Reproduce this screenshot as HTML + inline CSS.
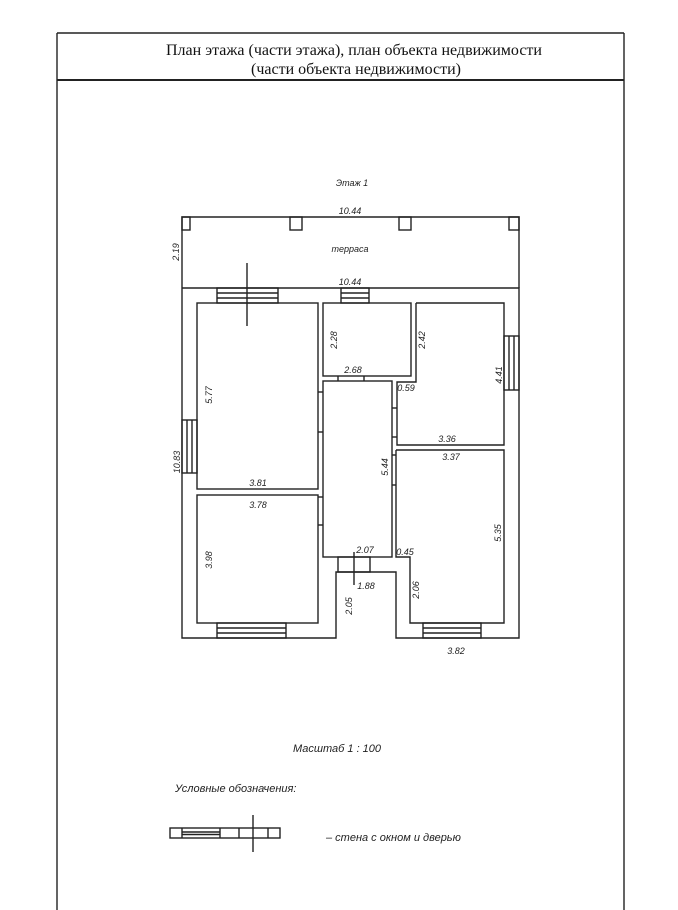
<!DOCTYPE html>
<html><head><meta charset="utf-8"><style>
html,body{margin:0;padding:0;background:#fff;width:678px;height:910px;overflow:hidden}
svg{display:block}
text{font-family:"Liberation Sans","DejaVu Sans",sans-serif;font-style:italic;fill:#222}
.t{font-family:"Liberation Serif","DejaVu Serif",serif;font-style:normal;fill:#111}
</style></head><body>
<svg width="678" height="910" viewBox="0 0 678 910" xmlns="http://www.w3.org/2000/svg">
<g fill="none" stroke="#222" stroke-width="1.4">
<line x1="57" y1="33" x2="624" y2="33"/>
<line x1="57" y1="33" x2="57" y2="910"/>
<line x1="624" y1="33" x2="624" y2="910"/>
<line x1="57" y1="80" x2="624" y2="80" stroke-width="2"/>
<polyline points="182,288 182,217 519,217 519,288"/>
<rect x="182" y="217" width="8" height="13"/>
<rect x="290" y="217" width="12" height="13"/>
<rect x="399" y="217" width="12" height="13"/>
<rect x="509" y="217" width="10" height="13"/>
<polyline points="182,288 519,288 519,638 396,638 396,572 336,572 336,638 182,638 182,288"/>
<rect x="197" y="303" width="121" height="186"/>
<rect x="197" y="495" width="121" height="128"/>
<rect x="323" y="303" width="88" height="73"/>
<rect x="323" y="381" width="69" height="176"/>
<polyline points="416,303 504,303 504,445 397,445 397,382 416,382 416,303"/>
<polyline points="396,450 504,450 504,623 410,623 410,557 396,557 396,450"/>
<rect x="217" y="288" width="61" height="15"/>
<line x1="217" y1="293" x2="278" y2="293"/><line x1="217" y1="298" x2="278" y2="298"/>
<rect x="341" y="288" width="28" height="15"/>
<line x1="341" y1="293" x2="369" y2="293"/><line x1="341" y1="298" x2="369" y2="298"/>
<rect x="504" y="336" width="15" height="54"/>
<line x1="509" y1="336" x2="509" y2="390"/><line x1="514" y1="336" x2="514" y2="390"/>
<rect x="182" y="420" width="15" height="53"/>
<line x1="187" y1="420" x2="187" y2="473"/><line x1="192" y1="420" x2="192" y2="473"/>
<rect x="217" y="623" width="69" height="15"/>
<line x1="217" y1="628" x2="286" y2="628"/><line x1="217" y1="633" x2="286" y2="633"/>
<rect x="423" y="623" width="58" height="15"/>
<line x1="423" y1="628" x2="481" y2="628"/><line x1="423" y1="633" x2="481" y2="633"/>
<line x1="338" y1="376" x2="338" y2="381"/><line x1="364" y1="376" x2="364" y2="381"/>
<line x1="318" y1="392" x2="323" y2="392"/><line x1="318" y1="432" x2="323" y2="432"/>
<line x1="318" y1="497" x2="323" y2="497"/><line x1="318" y1="525" x2="323" y2="525"/>
<line x1="392" y1="408" x2="397" y2="408"/><line x1="392" y1="437" x2="397" y2="437"/>
<line x1="392" y1="455" x2="396" y2="455"/><line x1="392" y1="485" x2="396" y2="485"/>
<rect x="338" y="557" width="32" height="15"/>
<line x1="247" y1="263" x2="247" y2="326"/>
<line x1="354" y1="552" x2="354" y2="585"/>
<rect x="170" y="828" width="110" height="10"/>
<line x1="182" y1="828" x2="182" y2="838"/><line x1="220" y1="828" x2="220" y2="838"/>
<line x1="182" y1="832" x2="220" y2="832"/><line x1="182" y1="834.5" x2="220" y2="834.5"/>
<line x1="239" y1="828" x2="239" y2="838"/><line x1="268" y1="828" x2="268" y2="838"/>
<line x1="253" y1="815" x2="253" y2="852"/>
</g>
<text class="t" x="354" y="55" font-size="16" text-anchor="middle">План этажа (части этажа), план объекта недвижимости</text>
<text class="t" x="356" y="74" font-size="16" text-anchor="middle">(части объекта недвижимости)</text>
<g font-size="9">
<text x="352" y="186" text-anchor="middle">Этаж 1</text>
<text x="350" y="214" text-anchor="middle">10.44</text>
<text x="350" y="252" text-anchor="middle">терраса</text>
<text x="350" y="285" text-anchor="middle">10.44</text>
<text x="353" y="373" text-anchor="middle">2.68</text>
<text x="406" y="391" text-anchor="middle">0.59</text>
<text x="447" y="442" text-anchor="middle">3.36</text>
<text x="451" y="460" text-anchor="middle">3.37</text>
<text x="258" y="486" text-anchor="middle">3.81</text>
<text x="258" y="508" text-anchor="middle">3.78</text>
<text x="365" y="553" text-anchor="middle">2.07</text>
<text x="405" y="555" text-anchor="middle">0.45</text>
<text x="366" y="589" text-anchor="middle">1.88</text>
<text x="456" y="654" text-anchor="middle">3.82</text>
<text transform="translate(179,252) rotate(-90)" text-anchor="middle">2.19</text>
<text transform="translate(337,340) rotate(-90)" text-anchor="middle">2.28</text>
<text transform="translate(425,340) rotate(-90)" text-anchor="middle">2.42</text>
<text transform="translate(502,375) rotate(-90)" text-anchor="middle">4.41</text>
<text transform="translate(212,395) rotate(-90)" text-anchor="middle">5.77</text>
<text transform="translate(180,462) rotate(-90)" text-anchor="middle">10.83</text>
<text transform="translate(388,467) rotate(-90)" text-anchor="middle">5.44</text>
<text transform="translate(501,533) rotate(-90)" text-anchor="middle">5.35</text>
<text transform="translate(212,560) rotate(-90)" text-anchor="middle">3.98</text>
<text transform="translate(352,606) rotate(-90)" text-anchor="middle">2.05</text>
<text transform="translate(419,590) rotate(-90)" text-anchor="middle">2.06</text>
</g>
<text x="337" y="752" font-size="11" text-anchor="middle">Масштаб 1 : 100</text>
<text x="175" y="792" font-size="11">Условные обозначения:</text>
<text x="326" y="841" font-size="11">– стена с окном и дверью</text>
</svg>
</body></html>
